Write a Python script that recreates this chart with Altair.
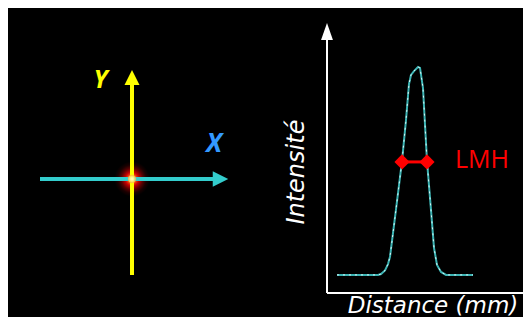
import altair as alt
import pandas as pd

# ---------------- data ----------------
# left schematic (beam plane, arbitrary units, spot at 0,0)
axis_names = ["X", "Y"]
axis_colors = ["#33cccc", "#ffff00"]
axis_x1 = [-9.2, 0.0]
axis_y1 = [0.0, -9.6]
axis_x2 = [8.2, 0.0]
axis_y2 = [0.0, 9.5]
head_x = [8.85, 0.0]
head_y = [0.0, 10.15]
label_x = [8.2, -3.15]
label_y = [2.7, 9.1]
label_colors = ["#3399ff", "#ffff00"]
label_sizes = [26, 25]
spot_x = [0.0]
spot_y = [0.0]

# right: intensity profile
profile_mm = [1.0, 5.1, 5.4, 5.8, 6.1, 6.3, 6.9, 7.5, 7.9, 8.2, 8.4, 8.7, 9.1,
              9.3, 9.6, 10.0, 10.4, 10.7, 11.0, 11.4, 11.9, 14.6]
profile_int = [0.08, 0.08, 0.084, 0.10, 0.128, 0.16, 0.37, 0.584, 0.765, 0.925,
               0.965, 0.982, 1.0, 0.996, 0.907, 0.584, 0.367, 0.2, 0.124, 0.093,
               0.08, 0.08]
fwhm_mm = [7.5, 10.0]
fwhm_int = [0.58, 0.58]
fwhm_label = "LMH"
x_title = "Distance (mm)"
y_title = "Intensité"

FONT = "Open Sans"
TITLE_FONT = "DejaVu Sans"

# ---------------- scales ----------------
LX = alt.Scale(domain=[-10, 10], range=[24, 224], nice=False, zero=False)
LY = alt.Scale(domain=[-10, 10], range=[271, 71], nice=False, zero=False)
RX = alt.Scale(domain=[0, 20], range=[319, 519], nice=False, zero=False)
RY = alt.Scale(domain=[0, 1], range=[285, 59], nice=False, zero=False)

# ---------------- left panel ----------------
axes_df = pd.DataFrame({"name": axis_names, "color": axis_colors,
                        "x1": axis_x1, "y1": axis_y1, "x2": axis_x2, "y2": axis_y2,
                        "hx": head_x, "hy": head_y,
                        "lx": label_x, "ly": label_y, "lcolor": label_colors,
                        "ls": label_sizes})
spot_df = pd.DataFrame({"x": spot_x, "y": spot_y})

glow = alt.Chart(spot_df).mark_circle(
    size=1250, opacity=1,
    color=alt.Gradient(gradient="radial",
                       stops=[alt.GradientStop(color="#fff6c0", offset=0),
                              alt.GradientStop(color="#ffc050", offset=0.1),
                              alt.GradientStop(color="#ff5010", offset=0.22),
                              alt.GradientStop(color="#c80000", offset=0.38),
                              alt.GradientStop(color="#5a0000", offset=0.6),
                              alt.GradientStop(color="#1a0000", offset=0.8),
                              alt.GradientStop(color="#000000", offset=1)],
                       x1=0.5, y1=0.5, x2=0.5, y2=0.5, r1=0, r2=0.5)
).encode(x=alt.X("x:Q", scale=LX, axis=None), y=alt.Y("y:Q", scale=LY, axis=None))

arrow_lines = alt.Chart(axes_df).mark_rule(strokeWidth=4, strokeCap="butt").encode(
    x=alt.X("x1:Q", scale=LX, axis=None), y=alt.Y("y1:Q", scale=LY, axis=None),
    x2="x2:Q", y2="y2:Q", color=alt.Color("color:N", scale=None))

head_right = alt.Chart(axes_df).transform_filter(alt.datum.name == "X").mark_point(
    shape="M1,0L-1,-1L-1,1Z", size=240, filled=True, opacity=1, strokeWidth=0).encode(
    x=alt.X("hx:Q", scale=LX, axis=None), y=alt.Y("hy:Q", scale=LY, axis=None),
    color=alt.Color("color:N", scale=None))

head_up = alt.Chart(axes_df).transform_filter(alt.datum.name == "Y").mark_point(
    shape="M0,-1L-1,1L1,1Z", size=225, filled=True, opacity=1, strokeWidth=0).encode(
    x=alt.X("hx:Q", scale=LX, axis=None), y=alt.Y("hy:Q", scale=LY, axis=None),
    color=alt.Color("color:N", scale=None))

center_dot = alt.Chart(spot_df).mark_circle(
    size=70, opacity=0.8,
    color=alt.Gradient(gradient="radial",
                       stops=[alt.GradientStop(color="#ffffff", offset=0),
                              alt.GradientStop(color="#fff0a0", offset=0.5),
                              alt.GradientStop(color="#ffb030", offset=1)],
                       x1=0.5, y1=0.5, x2=0.5, y2=0.5, r1=0, r2=0.5)
).encode(x=alt.X("x:Q", scale=LX, axis=None), y=alt.Y("y:Q", scale=LY, axis=None))

axis_labels = alt.Chart(axes_df).mark_text(
    font=FONT, fontWeight="bold", fontStyle="italic",
    align="center", baseline="alphabetic").encode(
    x=alt.X("lx:Q", scale=LX, axis=None), y=alt.Y("ly:Q", scale=LY, axis=None),
    text="name:N", color=alt.Color("lcolor:N", scale=None),
    size=alt.Size("ls:Q", scale=None))

left = alt.layer(glow, arrow_lines, head_right, head_up, center_dot, axis_labels)

# ---------------- right panel ----------------
prof_df = pd.DataFrame({"d": profile_mm, "i": profile_int})
fwhm_df = pd.DataFrame({"d": fwhm_mm, "i": fwhm_int})
frame_df = pd.DataFrame({"x1": [0.0, 0.0], "y1": [0.0, 0.0],
                         "x2": [0.0, 19.8], "y2": [1.12, 0.0]})
head_df = pd.DataFrame({"d": [0.0], "i": [1.157]})
text_df = pd.DataFrame({"t": [x_title], "d": [10.6], "i": [-0.0885]})
ytext_df = pd.DataFrame({"t": [y_title], "d": [-2.3], "i": [0.535]})
lmh_df = pd.DataFrame({"t": [fwhm_label], "d": [12.8], "i": [0.553]})

frame = alt.Chart(frame_df).mark_rule(color="white", strokeWidth=2, strokeCap="butt").encode(
    x=alt.X("x1:Q", scale=RX, axis=None), y=alt.Y("y1:Q", scale=RY, axis=None),
    x2="x2:Q", y2="y2:Q")

frame_head = alt.Chart(head_df).mark_point(
    shape="M0,-1L-0.7,1L0.7,1Z", size=289, filled=True, color="white",
    opacity=1, strokeWidth=0).encode(
    x=alt.X("d:Q", scale=RX, axis=None), y=alt.Y("i:Q", scale=RY, axis=None))

prof_line = alt.Chart(prof_df).mark_line(color="#3cb4b4", strokeWidth=2).encode(
    x=alt.X("d:Q", scale=RX, axis=None), y=alt.Y("i:Q", scale=RY, axis=None),
    order="d:Q")
prof_dash = alt.Chart(prof_df).mark_line(color="#e8ffff", strokeWidth=1,
                                         strokeDash=[2, 4], opacity=0.9).encode(
    x=alt.X("d:Q", scale=RX, axis=None), y=alt.Y("i:Q", scale=RY, axis=None),
    order="d:Q")

fwhm_line = alt.Chart(fwhm_df).mark_line(color="#ff0000", strokeWidth=3).encode(
    x=alt.X("d:Q", scale=RX, axis=None), y=alt.Y("i:Q", scale=RY, axis=None))
fwhm_pts = alt.Chart(fwhm_df).mark_point(shape="diamond", size=230, filled=True,
                                         color="#ff0000", opacity=1).encode(
    x=alt.X("d:Q", scale=RX, axis=None), y=alt.Y("i:Q", scale=RY, axis=None))

x_label = alt.Chart(text_df).mark_text(
    font=TITLE_FONT, fontSize=23, fontStyle="italic", color="white",
    align="center", baseline="alphabetic").encode(
    x=alt.X("d:Q", scale=RX, axis=None), y=alt.Y("i:Q", scale=RY, axis=None), text="t:N")
y_label = alt.Chart(ytext_df).mark_text(
    font=TITLE_FONT, fontSize=24, fontStyle="italic", color="white", angle=270,
    align="center", baseline="alphabetic").encode(
    x=alt.X("d:Q", scale=RX, axis=None), y=alt.Y("i:Q", scale=RY, axis=None), text="t:N")
lmh = alt.Chart(lmh_df).mark_text(
    font=FONT, fontSize=25, color="#ff0000",
    align="left", baseline="alphabetic").encode(
    x=alt.X("d:Q", scale=RX, axis=None), y=alt.Y("i:Q", scale=RY, axis=None), text="t:N")

right = alt.layer(frame, frame_head, prof_line, prof_dash, fwhm_line, fwhm_pts,
                  x_label, y_label, lmh)

chart = alt.layer(left, right).resolve_scale(x="independent", y="independent").properties(
    width=515, height=309, padding=0, autosize=alt.AutoSizeParams(type="none"),
    background="black"
).configure_view(stroke=None)

chart.save("out.html", embed_options={"renderer": "svg", "actions": False})
